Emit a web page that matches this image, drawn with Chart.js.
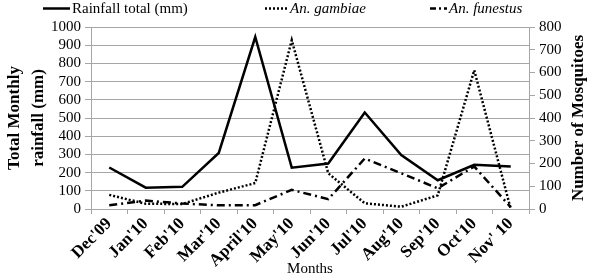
<!DOCTYPE html>
<html>
<head>
<meta charset="utf-8">
<script src="https://cdn.jsdelivr.net/npm/chart.js@4.4.0/dist/chart.umd.min.js"></script>
<style>
  html, body { margin: 0; padding: 0; background: #fff; }
  #wrap { width: 600px; height: 279px; }
</style>
</head>
<body>
<div id="wrap"><canvas id="chart" width="600" height="279"></canvas></div>
<script>
const months = ["Dec'09", "Jan'10", "Feb'10", "Mar'10", "April'10", "May'10",
                "Jun'10", "Jul'10", "Aug'10", "Sep'10", "Oct'10", "Nov' 10"];
const rainfall = [228, 117, 122, 308, 945, 227, 250, 530, 297, 158, 243, 234];
const gambiae  = [62, 23, 22, 72, 114, 742, 157, 25, 10, 60, 610, 0];
const funestus = [16, 37, 24, 16, 17, 84, 43, 222, 157, 91, 187, 8];

const SERIF = "'Liberation Serif', 'Times New Roman', serif";
const GRID = "#a6a6a6";

// legend and the right-hand title are drawn by hand so they sit like the original
const manualText = {
  id: "manualText",
  afterDraw(chart) {
    const ctx = chart.ctx;
    const items = [
      { x1: 43, x2: 70, dash: [], text: "Rainfall total (mm)", italic: false },
      { x1: 265, x2: 288, dash: [2, 2], text: "An. gambiae", italic: true },
      { x1: 430, x2: 447, dash: [6, 3, 2, 3], text: "An. funestus", italic: true }
    ];
    ctx.save();
    items.forEach(it => {
      ctx.beginPath();
      ctx.setLineDash(it.dash);
      ctx.lineWidth = 2.5;
      ctx.strokeStyle = "#000";
      ctx.moveTo(it.x1, 8.5);
      ctx.lineTo(it.x2, 8.5);
      ctx.stroke();
      ctx.setLineDash([]);
      ctx.fillStyle = "#000";
      ctx.font = (it.italic ? "italic " : "") + "15px " + SERIF;
      ctx.textBaseline = "middle";
      ctx.textAlign = "left";
      ctx.fillText(it.text, it.x2 + 2, 9);
    });

    // "Number of Mosquitoes", reading bottom to top
    ctx.translate(579, 118);
    ctx.rotate(-Math.PI / 2);
    ctx.font = "bold 17px " + SERIF;
    ctx.textAlign = "center";
    ctx.textBaseline = "middle";
    ctx.fillText("Number of Mosquitoes", 0, 0);
    ctx.restore();
  }
};

const config = {
  type: "line",
  data: {
    labels: months,
    datasets: [
      {
        label: "Rainfall total (mm)",
        data: rainfall,
        yAxisID: "y",
        borderColor: "#000",
        borderWidth: 2.5,
        pointRadius: 0,
        tension: 0
      },
      {
        label: "An. gambiae",
        data: gambiae,
        yAxisID: "y1",
        borderColor: "#000",
        borderWidth: 2.5,
        borderDash: [2, 2],
        pointRadius: 0,
        tension: 0
      },
      {
        label: "An. funestus",
        data: funestus,
        yAxisID: "y1",
        borderColor: "#000",
        borderWidth: 2.5,
        borderDash: [8, 4, 2, 4],
        pointRadius: 0,
        tension: 0
      }
    ]
  },
  options: {
    responsive: false,
    animation: false,
    layout: { padding: { top: 27, left: 0, right: 0, bottom: 0 } },
    plugins: {
      legend: { display: false },
      tooltip: { enabled: false }
    },
    scales: {
      x: {
        offset: true,
        grid: { drawOnChartArea: false, drawTicks: true, tickLength: 5, color: GRID, offset: true },
        border: { display: true, color: GRID, width: 1 },
        ticks: {
          minRotation: 45,
          maxRotation: 45,
          autoSkip: false,
          padding: 0,
          color: "#000",
          font: { family: SERIF, size: 17, weight: "bold" }
        },
        title: {
          display: true,
          text: "Months",
          color: "#000",
          padding: { top: 0, bottom: 1 },
          font: { family: SERIF, size: 15 }
        },
        afterFit(scale) {
          scale.height = 70;
          scale.paddingLeft = 0;
          scale.paddingRight = 0;
        }
      },
      y: {
        position: "left",
        min: 0,
        max: 1000,
        ticks: {
          stepSize: 100,
          autoSkip: false,
          color: "#000",
          padding: 4,
          font: { family: SERIF, size: 15 },
          callback: v => String(v)
        },
        grid: { color: GRID, lineWidth: 1, tickLength: 6 },
        border: { display: true, color: GRID },
        title: {
          display: true,
          text: ["Total Monthly", "rainfall (mm)"],
          color: "#000",
          padding: { top: 3, bottom: 0 },
          font: { family: SERIF, size: 17, weight: "bold", lineHeight: 1.4 }
        },
        afterFit(scale) {
          scale.width = 91;
          scale.paddingTop = 0;
          scale.paddingBottom = 0;
        }
      },
      y1: {
        position: "right",
        min: 0,
        max: 800,
        ticks: {
          stepSize: 100,
          autoSkip: false,
          color: "#000",
          padding: 4,
          font: { family: SERIF, size: 15 },
          callback: v => String(v)
        },
        grid: { drawOnChartArea: false, color: GRID, tickLength: 6 },
        border: { display: true, color: GRID },
        title: { display: false },
        afterFit(scale) {
          scale.width = 71;
          scale.paddingTop = 0;
          scale.paddingBottom = 0;
        }
      }
    }
  },
  plugins: [manualText]
};

new Chart(document.getElementById("chart"), config);
</script>
</body>
</html>
